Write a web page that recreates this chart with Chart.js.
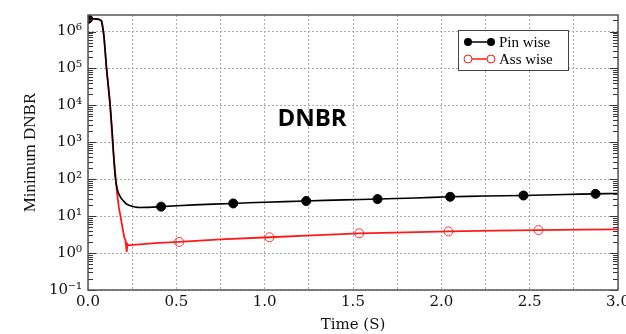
<!DOCTYPE html>
<html>
<head>
<meta charset="utf-8">
<script src="https://cdn.jsdelivr.net/npm/chart.js@4.4.1/dist/chart.umd.min.js"></script>
<style>
  html, body { margin: 0; padding: 0; background: #fff; overflow: hidden; }
  #wrap { width: 640px; height: 334px; }
</style>
</head>
<body>
<div id="wrap"><canvas id="dnbrChart" width="640" height="334"></canvas></div>
<script>
// Minimum DNBR vs time, pin-wise and assembly-wise
const pinTime = [0, 0.04, 0.065, 0.077, 0.09, 0.105, 0.124, 0.138, 0.148, 0.157, 0.17, 0.185, 0.2, 0.22, 0.25, 0.28, 0.33, 0.41, 0.6, 0.82, 1.0, 1.23, 1.45, 1.64, 1.85, 2.05, 2.25, 2.46, 2.7, 2.87, 3.0];
const pinDnbr = [2.2e6, 2.2e6, 2.1e6, 1.9e6, 7.6e5, 1e5, 1.2e4, 1.6e3, 280, 90, 45, 32, 26, 21, 18.5, 17.3, 17.3, 18.1, 20.2, 22.1, 23.8, 25.7, 27.6, 29, 31, 33.4, 35, 36.2, 38.5, 40.2, 41];

const assTime = [0, 0.04, 0.065, 0.077, 0.09, 0.105, 0.124, 0.143, 0.155, 0.165, 0.175, 0.185, 0.195, 0.205, 0.212, 0.219, 0.223, 0.228, 0.24, 0.38, 0.516, 0.75, 1.027, 1.3, 1.535, 1.8, 2.04, 2.3, 2.55, 2.8, 3.0];
const assDnbr = [2.2e6, 2.2e6, 2.1e6, 1.9e6, 7.6e5, 1e5, 1.2e4, 560, 130, 40, 17, 9.3, 5, 2.7, 2.2, 1.08, 1.75, 1.62, 1.65, 1.85, 2.0, 2.35, 2.68, 3.05, 3.43, 3.65, 3.87, 4.05, 4.2, 4.32, 4.4];

// symbols placed along each curve
const pinMarkTime = [0, 0.414, 0.822, 1.235, 1.639, 2.05, 2.465, 2.873];
const pinMarkDnbr = [2.2e6, 18.1, 22.1, 25.7, 29, 33.4, 36.2, 40.2];
const assMarkTime = [0, 0.516, 1.027, 1.535, 2.04, 2.55];
const assMarkDnbr = [2.2e6, 2.0, 2.68, 3.43, 3.87, 4.2];

const decades = [-1, 0, 1, 2, 3, 4, 5, 6];
const seriesNames = ['Pin wise', 'Ass wise'];

const toXY = (xs, ys) => xs.map((x, i) => ({ x: x, y: ys[i] }));
const SUP = { '-': '\u207B', '0': '\u2070', '1': '\u00B9', '2': '\u00B2', '3': '\u00B3', '4': '\u2074', '5': '\u2075', '6': '\u2076', '7': '\u2077', '8': '\u2078', '9': '\u2079' };
const powLabel = e => '10' + String(e).split('').map(c => SUP[c]).join('');

// frame, minor log ticks, legend box and the DNBR caption
const decorPlugin = {
  id: 'decor',
  afterDraw(chart) {
    const ctx = chart.ctx;
    const a = chart.chartArea;
    const y = chart.scales.y;
    ctx.save();

    ctx.strokeStyle = '#333';
    ctx.lineWidth = 1;
    for (let e = -1; e <= 6; e++) {
      for (let m = 1; m <= 9; m++) {
        const v = m * Math.pow(10, e);
        if (v > y.max) continue;
        const py = Math.round(y.getPixelForValue(v)) + 0.5;
        const len = m === 1 ? 8 : 5;
        ctx.beginPath();
        ctx.moveTo(a.left, py); ctx.lineTo(a.left + len, py);
        ctx.moveTo(a.right, py); ctx.lineTo(a.right - len, py);
        ctx.stroke();
      }
    }

    ctx.strokeStyle = '#555';
    ctx.lineWidth = 1.5;
    ctx.strokeRect(a.left, a.top, a.right - a.left, a.bottom - a.top);

    // legend
    const lx = 458, ly = 30;
    ctx.fillStyle = '#fff';
    ctx.fillRect(lx, ly, 110, 40);
    ctx.strokeStyle = '#444';
    ctx.lineWidth = 1;
    ctx.strokeRect(lx + 0.5, ly + 0.5, 110, 40);
    const rows = [
      { name: seriesNames[0], color: '#000', filled: true, y: ly + 12 },
      { name: seriesNames[1], color: '#ff1a1a', filled: false, y: ly + 29 }
    ];
    rows.forEach(r => {
      ctx.strokeStyle = r.color;
      ctx.lineWidth = 1.5;
      ctx.beginPath();
      ctx.moveTo(468, r.y); ctx.lineTo(491, r.y);
      ctx.stroke();
      [468, 491].forEach(cx => {
        ctx.beginPath();
        ctx.arc(cx, r.y, 4, 0, Math.PI * 2);
        if (r.filled) { ctx.fillStyle = r.color; ctx.fill(); }
        else { ctx.fillStyle = '#fff'; ctx.fill(); ctx.lineWidth = 1; ctx.stroke(); }
      });
      ctx.fillStyle = '#000';
      ctx.font = '15px "Liberation Serif", serif';
      ctx.textAlign = 'left';
      ctx.textBaseline = 'middle';
      ctx.fillText(r.name, 499, r.y + 1);
    });

    ctx.fillStyle = '#000';
    ctx.font = 'bold 24px "Open Sans", "Liberation Sans", sans-serif';
    ctx.textAlign = 'center';
    ctx.textBaseline = 'middle';
    ctx.fillText('DNBR', 312, 119);
    ctx.restore();
  }
};

new Chart(document.getElementById('dnbrChart'), {
  type: 'line',
  data: {
    datasets: [
      { label: seriesNames[0], data: toXY(pinTime, pinDnbr), borderColor: '#000', borderWidth: 1.6, pointRadius: 0, tension: 0.3 },
      { label: seriesNames[1], data: toXY(assTime, assDnbr), borderColor: '#ff1a1a', borderWidth: 1.8, pointRadius: 0, tension: 0 },
      { label: seriesNames[0] + ' marks', data: toXY(pinMarkTime, pinMarkDnbr), showLine: false, pointRadius: 4.5, pointBackgroundColor: '#000', pointBorderColor: '#000', pointBorderWidth: 1 },
      { label: seriesNames[1] + ' marks', data: toXY(assMarkTime, assMarkDnbr), showLine: false, pointRadius: 4.5, pointBackgroundColor: 'rgba(255,255,255,0)', pointBorderColor: '#ff3030', pointBorderWidth: 1 }
    ]
  },
  options: {
    responsive: false,
    animation: false,
    layout: { padding: { top: 10, right: 22, left: 0, bottom: 0 } },
    plugins: { legend: { display: false }, tooltip: { enabled: false } },
    scales: {
      x: {
        type: 'linear',
        min: 0, max: 3,
        afterFit: s => { s.height = 44; },
        ticks: {
          stepSize: 0.25,
          autoSkip: false,
          maxRotation: 0,
          padding: 3,
          color: '#111',
          font: { family: '"DejaVu Serif", serif', size: 15 },
          callback: v => (Math.abs(v * 2 - Math.round(v * 2)) < 1e-6 ? v.toFixed(1) : '')
        },
        grid: { color: '#aaa', lineWidth: 1, drawTicks: false },
        border: { display: false, dash: [2, 2] },
        title: { display: true, text: 'Time (S)', color: '#111', padding: { top: 0, bottom: 0 }, font: { family: '"DejaVu Serif", serif', size: 15 } }
      },
      y: {
        type: 'logarithmic',
        min: 0.1, max: 2.8e6,
        afterFit: s => { s.width = 88; },
        afterBuildTicks: s => { s.ticks = decades.map(e => ({ value: Math.pow(10, e) })); },
        ticks: {
          padding: 6,
          color: '#111',
          font: { family: '"DejaVu Serif", serif', size: 15 },
          callback: v => powLabel(Math.round(Math.log10(v)))
        },
        grid: { color: '#aaa', lineWidth: 1, drawTicks: false },
        border: { display: false, dash: [2, 2] },
        title: { display: true, text: 'Minimum DNBR', color: '#111', padding: { top: 20, bottom: 6 }, font: { family: '"Liberation Serif", serif', size: 17 } }
      }
    }
  },
  plugins: [decorPlugin]
});
</script>
</body>
</html>
